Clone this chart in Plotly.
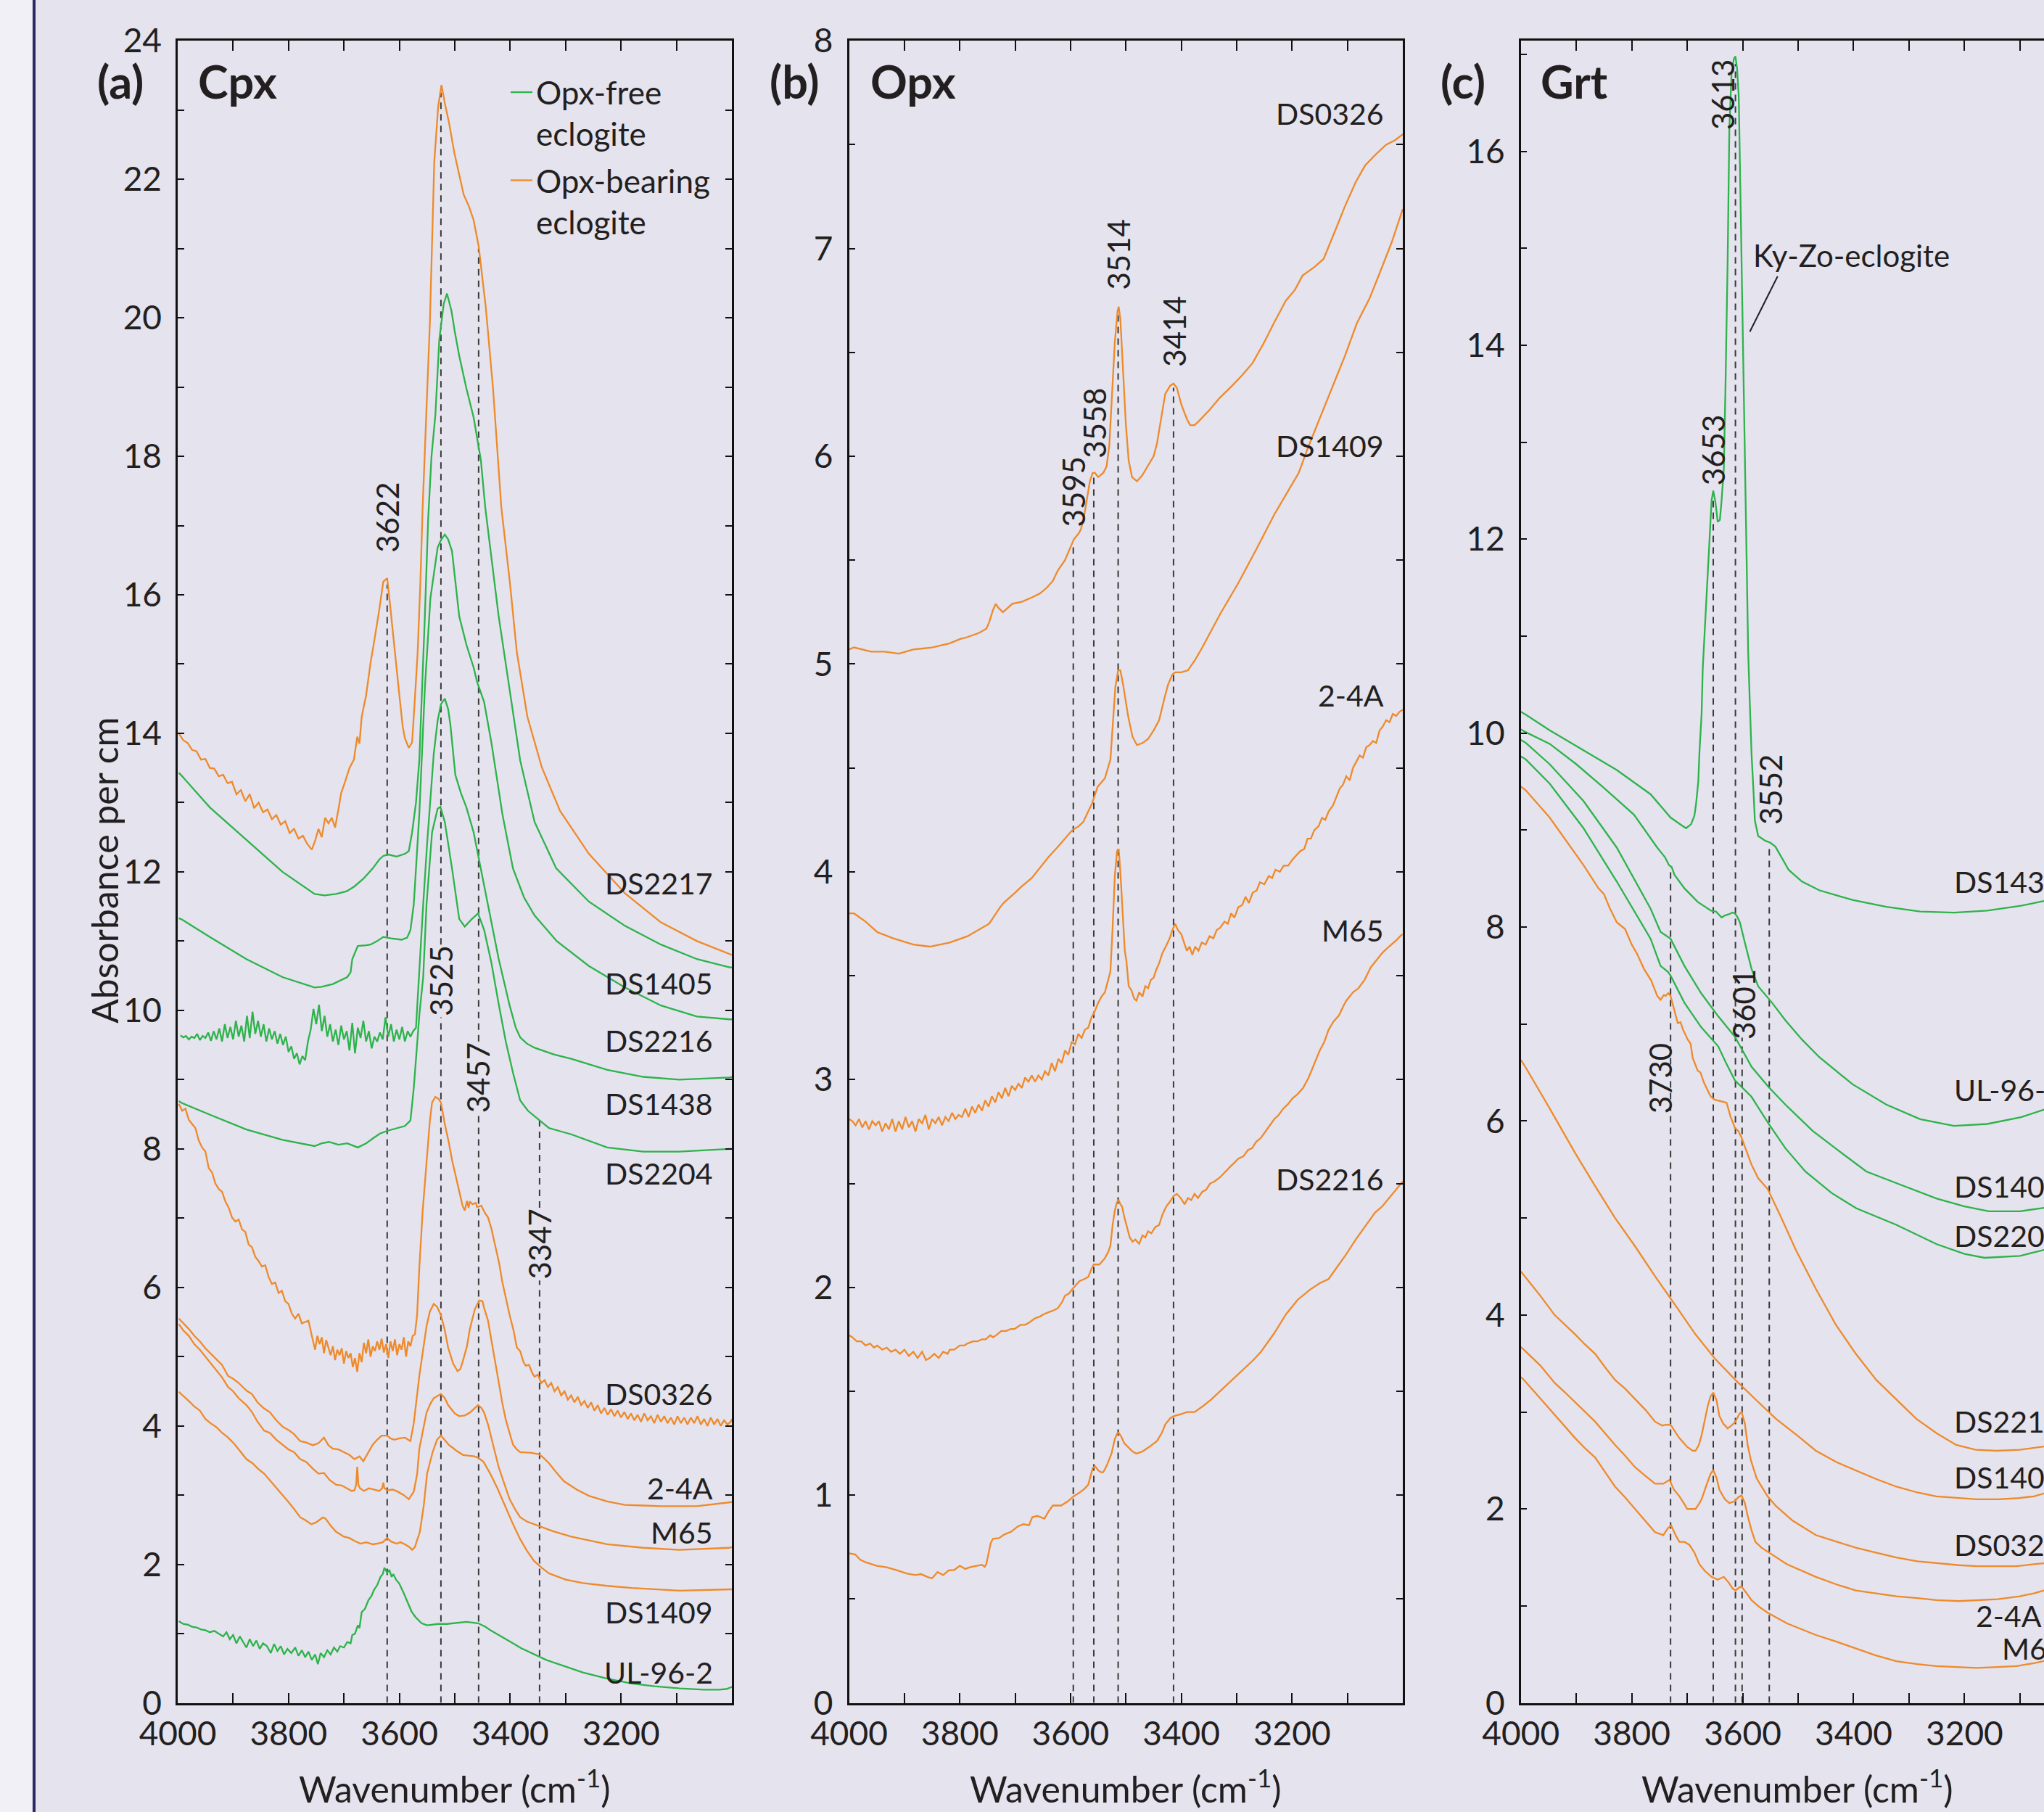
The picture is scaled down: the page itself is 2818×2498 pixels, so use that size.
import plotly.graph_objects as go

# ---------------- colours / fonts ----------------
ORANGE = "#EF8A2A"
GREEN = "#2DB34A"
BG = "#E4E3EE"
STRIP = "#F0F0F6"
NAVY = "#2A2A66"
INK = "#231F20"
FONT = "Lato"

# ---------------- panel (a) Cpx spectra: (wavenumber, absorbance per cm) ----------------
A_DS2217 = [(3998,14.00),(3990,13.90),(3982,13.86),(3974,13.76),(3966,13.74),(3958,13.62),(3950,13.63),(3942,13.50),
    (3934,13.49),(3926,13.38),(3918,13.40),(3910,13.28),(3902,13.30),(3894,13.12),(3886,13.18),(3878,13.02),(3870,13.12),
    (3862,12.92),(3854,13.00),(3846,12.86),(3838,12.90),(3830,12.76),(3822,12.82),(3814,12.68),(3806,12.73),(3798,12.56),
    (3790,12.62),(3782,12.48),(3774,12.52),(3766,12.40),(3758,12.32),(3752,12.45),(3746,12.62),(3740,12.50),(3734,12.78),
    (3728,12.70),(3722,12.78),(3716,12.64),(3710,12.90),(3705,13.14),(3698,13.30),(3690,13.50),(3682,13.62),(3676,13.95),
    (3672,13.85),(3668,14.24),(3660,14.55),(3652,15.02),(3646,15.30),(3642,15.49),(3636,15.80),(3629,16.19),(3622,16.24),
    (3618,15.95),(3613,15.54),(3606,15.00),(3600,14.55),(3594,14.10),(3590,13.93),(3583,13.79),(3577,13.87),(3572,14.50),
    (3567,15.17),(3562,16.20),(3558,17.26),(3545,19.92),(3537,22.25),(3530,23.05),(3524,23.36),(3518,23.10),(3510,22.80),
    (3501,22.39),(3492,22.05),(3484,21.78),(3474,21.60),(3466,21.41),(3457,21.04),(3444,20.15),(3431,18.98),(3416,17.26),
    (3401,16.21),(3388,15.17),(3369,14.24),(3343,13.51),(3310,12.88),(3258,12.26),(3193,11.69),(3128,11.27),(3063,11.00),
    (3004,10.81),(3000,10.80)]
A_DS1405 = [(3998,13.43),(3992,13.38),(3942,12.93),(3876,12.46),(3811,12.00),(3753,11.68),(3735,11.66),(3714,11.68),
    (3695,11.72),(3681,11.79),(3665,11.90),(3648,12.05),(3636,12.18),(3629,12.23),(3620,12.25),(3605,12.22),(3590,12.26),
    (3583,12.30),(3577,12.57),(3570,13.00),(3564,13.61),(3554,15.69),(3548,17.10),(3542,18.00),(3535,18.60),(3528,19.68),
    (3520,20.20),(3514,20.35),(3506,20.10),(3500,19.80),(3492,19.45),(3479,18.98),(3466,18.56),(3453,17.95),(3445,17.26),
    (3421,15.70),(3401,14.65),(3382,13.61),(3356,12.72),(3317,12.05),(3258,11.57),(3193,11.22),(3128,10.95),(3063,10.74),
    (3004,10.62),(3000,10.62)]
A_DS2216 = [(3998,11.33),(3992,11.31),(3942,11.06),(3876,10.74),(3811,10.48),(3753,10.33),(3740,10.34),(3720,10.38),
    (3694,10.48),(3688,10.55),(3685,10.74),(3678,10.88),(3675,10.93),(3660,10.94),(3652,10.95),(3640,11.00),(3629,11.06),
    (3615,11.04),(3596,11.02),(3586,11.05),(3580,11.16),(3574,11.53),(3564,12.83),(3554,14.65),(3544,15.95),(3531,16.68),
    (3525,16.79),(3518,16.87),(3512,16.80),(3505,16.63),(3492,15.69),(3479,15.28),(3466,14.95),(3460,14.75),(3447,14.45),
    (3434,13.87),(3414,12.83),(3395,12.05),(3375,11.63),(3356,11.37),(3316,11.00),(3258,10.64),(3193,10.33),(3128,10.07),
    (3063,9.91),(3004,9.87),(3000,9.87)]
A_DS1438 = [(3995,9.64),(3990,9.61),(3985,9.63),(3980,9.58),(3975,9.62),(3970,9.60),(3965,9.66),(3960,9.57),(3955,9.63),
    (3950,9.60),(3945,9.68),(3940,9.56),(3935,9.70),(3930,9.58),(3925,9.74),(3920,9.55),(3915,9.80),(3910,9.60),(3905,9.76),
    (3900,9.58),(3895,9.85),(3890,9.62),(3885,9.78),(3880,9.55),(3875,9.92),(3870,9.60),(3865,9.98),(3860,9.66),(3855,9.85),
    (3850,9.62),(3845,9.80),(3840,9.55),(3835,9.74),(3830,9.58),(3825,9.70),(3820,9.52),(3815,9.66),(3810,9.50),(3805,9.62),
    (3800,9.40),(3795,9.48),(3790,9.30),(3785,9.38),(3780,9.22),(3775,9.34),(3770,9.28),(3765,9.55),(3760,9.72),(3755,10.02),
    (3750,9.80),(3745,10.08),(3740,9.70),(3735,9.92),(3730,9.62),(3725,9.80),(3720,9.55),(3715,9.72),(3710,9.50),(3705,9.78),
    (3700,9.58),(3695,9.70),(3690,9.42),(3685,9.82),(3680,9.38),(3675,9.75),(3670,9.60),(3665,9.85),(3660,9.55),(3655,9.70),
    (3650,9.45),(3645,9.62),(3640,9.55),(3635,9.68),(3630,9.58),(3625,9.90),(3620,9.62),(3615,9.80),(3610,9.55),(3605,9.72),
    (3600,9.58),(3595,9.76),(3590,9.55),(3585,9.70),(3580,9.62),(3575,9.70),(3570,9.75),(3566,10.30),(3562,10.90),
    (3557,11.53),(3550,12.40),(3544,13.09),(3538,13.70),(3531,14.18),(3525,14.42),(3518,14.50),(3512,14.35),(3508,14.13),
    (3503,13.75),(3499,13.40),(3489,13.14),(3479,12.93),(3466,12.57),(3453,12.05),(3440,11.53),(3421,10.75),(3401,10.07),
    (3390,9.75),(3382,9.61),(3370,9.52),(3356,9.46),(3320,9.36),(3290,9.30),(3225,9.14),(3160,9.04),(3095,9.00),(3004,9.03),
    (3000,9.04)]
A_DS2204 = [(3998,8.69),(3992,8.66),(3941,8.49),(3876,8.28),(3811,8.13),(3753,8.04),(3740,8.08),(3727,8.10),(3710,8.06),
    (3694,8.08),(3675,8.02),(3660,8.08),(3648,8.15),(3635,8.22),(3622,8.26),(3605,8.30),(3590,8.33),(3580,8.41),(3574,8.88),
    (3564,9.93),(3557,10.48),(3551,11.53),(3541,12.57),(3531,12.91),(3526,12.94),(3518,12.72),(3505,12.05),(3492,11.32),
    (3482,11.21),(3469,11.32),(3458,11.40),(3447,11.16),(3434,10.69),(3421,10.10),(3408,9.55),(3395,9.10),(3382,8.70),
    (3368,8.55),(3356,8.47),(3330,8.30),(3290,8.21),(3225,8.02),(3160,7.96),(3095,7.96),(3004,8.00),(3000,8.00)]
A_DS0326 = [(3998,8.65),(3992,8.55),(3986,8.58),(3980,8.42),(3974,8.36),(3968,8.30),(3962,8.12),(3956,8.02),(3950,7.96),
    (3944,7.72),(3938,7.66),(3932,7.50),(3926,7.42),(3920,7.38),(3914,7.24),(3908,7.15),(3902,7.01),(3896,6.95),(3890,6.98),
    (3884,6.84),(3878,6.80),(3872,6.62),(3866,6.58),(3860,6.44),(3854,6.38),(3848,6.30),(3842,6.32),(3836,6.15),(3830,6.05),
    (3824,6.07),(3818,5.92),(3812,5.95),(3806,5.80),(3800,5.76),(3794,5.62),(3788,5.55),(3782,5.62),(3776,5.48),(3770,5.50),
    (3764,5.52),(3758,5.30),(3752,5.10),(3748,5.30),(3744,5.18),(3740,5.28),(3736,5.05),(3732,5.24),(3728,5.12),(3724,5.02),
    (3720,5.15),(3716,4.95),(3712,5.10),(3708,5.02),(3704,5.12),(3700,4.90),(3696,5.08),(3692,4.98),(3688,5.05),(3684,4.85),
    (3680,4.98),(3676,4.78),(3672,5.05),(3668,4.92),(3664,5.20),(3660,5.05),(3656,5.25),(3652,5.00),(3648,5.15),(3644,5.08),
    (3640,5.22),(3636,5.10),(3632,5.26),(3628,5.06),(3624,5.18),(3620,4.98),(3616,5.22),(3612,5.08),(3608,5.25),(3604,5.02),
    (3600,5.18),(3596,5.10),(3592,5.28),(3588,5.00),(3584,5.22),(3580,5.15),(3576,5.30),(3572,5.32),(3568,5.60),(3564,6.28),
    (3558,7.10),(3551,7.84),(3545,8.40),(3541,8.67),(3535,8.75),(3529,8.72),(3525,8.67),(3518,8.36),(3511,8.10),(3505,7.84),
    (3498,7.60),(3492,7.42),(3486,7.18),(3482,7.11),(3478,7.25),(3475,7.15),(3473,7.24),(3468,7.20),(3462,7.22),(3460,7.16),
    (3452,7.18),(3446,7.08),(3440,7.01),(3434,6.85),(3427,6.59),(3420,6.35),(3414,6.07),(3408,5.85),(3401,5.60),(3394,5.38),
    (3388,5.13),(3382,5.08),(3376,4.92),(3372,4.87),(3366,4.88),(3360,4.76),(3356,4.71),(3350,4.74),(3344,4.62),(3338,4.66),
    (3332,4.56),(3326,4.62),(3320,4.50),(3314,4.56),(3308,4.44),(3302,4.50),(3296,4.38),(3290,4.44),(3284,4.34),(3278,4.42),
    (3272,4.30),(3266,4.36),(3260,4.26),(3254,4.34),(3248,4.22),(3242,4.30),(3236,4.18),(3230,4.26),(3224,4.16),(3218,4.24),
    (3212,4.14),(3206,4.22),(3200,4.12),(3194,4.20),(3188,4.10),(3182,4.18),(3176,4.08),(3170,4.16),(3164,4.06),(3158,4.18),
    (3152,4.08),(3146,4.14),(3140,4.04),(3134,4.16),(3128,4.06),(3122,4.14),(3116,4.04),(3110,4.12),(3104,4.02),(3098,4.14),
    (3092,4.04),(3086,4.12),(3080,4.02),(3074,4.12),(3068,4.04),(3062,4.14),(3056,4.02),(3050,4.10),(3044,4.00),(3038,4.12),
    (3032,4.02),(3026,4.10),(3020,4.00),(3014,4.08),(3008,4.02),(3002,4.06),(3000,4.10)]
A_2_4A = [(3998,5.55),(3990,5.48),(3980,5.40),(3970,5.30),(3960,5.22),(3950,5.12),(3940,5.04),(3930,4.95),(3920,4.88),
    (3909,4.72),(3900,4.68),(3890,4.62),(3876,4.51),(3866,4.46),(3856,4.34),(3844,4.25),(3834,4.20),(3822,4.08),(3811,3.99),
    (3800,3.94),(3790,3.88),(3779,3.78),(3768,3.76),(3756,3.72),(3746,3.75),(3736,3.83),(3728,3.72),(3720,3.67),(3710,3.66),
    (3700,3.62),(3690,3.58),(3681,3.52),(3672,3.56),(3665,3.49),(3656,3.62),(3648,3.73),(3640,3.80),(3632,3.86),(3622,3.86),
    (3616,3.82),(3609,3.80),(3600,3.82),(3590,3.83),(3580,3.78),(3574,4.04),(3564,4.72),(3551,5.44),(3545,5.65),(3538,5.76),
    (3532,5.72),(3525,5.60),(3518,5.38),(3512,5.13),(3503,4.90),(3495,4.79),(3490,4.82),(3486,4.92),(3478,5.15),(3473,5.39),
    (3464,5.68),(3456,5.81),(3450,5.80),(3447,5.70),(3440,5.52),(3434,5.24),(3427,4.92),(3421,4.61),(3414,4.32),(3408,4.09),
    (3400,3.88),(3395,3.73),(3388,3.66),(3382,3.62),(3362,3.61),(3348,3.59),(3340,3.54),(3330,3.46),(3316,3.32),(3303,3.20),
    (3280,3.08),(3258,2.99),(3225,2.91),(3193,2.86),(3160,2.85),(3128,2.84),(3063,2.84),(3004,2.89),(3000,2.90)]
A_M65 = [(3998,5.47),(3990,5.38),(3980,5.30),(3970,5.18),(3960,5.10),(3950,5.00),(3941,4.92),(3930,4.80),(3920,4.70),
    (3909,4.56),(3900,4.50),(3890,4.40),(3876,4.30),(3866,4.20),(3856,4.06),(3844,3.93),(3834,3.90),(3822,3.80),(3811,3.73),
    (3800,3.66),(3790,3.62),(3779,3.52),(3768,3.48),(3756,3.38),(3746,3.31),(3736,3.32),(3726,3.22),(3714,3.15),(3704,3.14),
    (3694,3.10),(3686,3.06),(3681,3.07),(3678,3.15),(3676,3.41),(3674,3.15),(3671,3.10),(3664,3.06),(3655,3.10),(3645,3.08),
    (3636,3.06),(3631,3.10),(3629,3.18),(3627,3.10),(3622,3.07),(3612,3.08),(3603,3.05),(3592,3.00),(3583,2.94),(3574,3.05),
    (3568,3.30),(3564,3.67),(3556,4.00),(3551,4.19),(3544,4.32),(3538,4.40),(3525,4.46),(3518,4.40),(3512,4.30),(3500,4.18),
    (3492,4.14),(3482,4.15),(3473,4.19),(3464,4.25),(3458,4.30),(3452,4.26),(3447,4.19),(3440,4.02),(3434,3.83),(3427,3.62),
    (3421,3.41),(3410,3.15),(3401,2.94),(3390,2.78),(3382,2.68),(3370,2.62),(3356,2.58),(3323,2.48),(3290,2.40),(3225,2.29),
    (3160,2.24),(3095,2.21),(3004,2.24),(3000,2.25)]
A_DS1409 = [(3998,4.49),(3992,4.45),(3980,4.36),(3970,4.28),(3960,4.22),(3950,4.10),(3941,4.04),(3930,3.98),(3920,3.90),
    (3909,3.83),(3898,3.74),(3888,3.64),(3876,3.52),(3865,3.46),(3855,3.38),(3844,3.31),(3832,3.20),(3822,3.10),(3811,3.00),
    (3800,2.90),(3790,2.80),(3779,2.68),(3770,2.64),(3759,2.58),(3752,2.60),(3746,2.63),(3738,2.68),(3733,2.66),(3724,2.56),
    (3714,2.47),(3700,2.40),(3690,2.38),(3681,2.34),(3670,2.30),(3660,2.32),(3648,2.29),(3640,2.30),(3630,2.32),(3622,2.38),
    (3615,2.33),(3605,2.30),(3598,2.32),(3590,2.29),(3582,2.25),(3577,2.21),(3572,2.25),(3568,2.35),(3563,2.47),(3556,2.85),
    (3550,3.31),(3540,3.62),(3532,3.80),(3525,3.86),(3518,3.80),(3510,3.72),(3503,3.68),(3497,3.64),(3485,3.58),(3475,3.57),
    (3465,3.56),(3458,3.54),(3448,3.48),(3436,3.31),(3422,3.08),(3409,2.84),(3396,2.60),(3383,2.38),(3370,2.20),(3357,2.05),
    (3343,1.95),(3330,1.87),(3300,1.78),(3269,1.73),(3225,1.69),(3181,1.66),(3094,1.62),(3000,1.64)]
A_UL962 = [(3998,1.18),(3990,1.14),(3982,1.13),(3974,1.10),(3966,1.09),(3958,1.06),(3950,1.05),(3942,1.02),(3934,1.04),
    (3926,1.00),(3918,0.96),(3912,1.02),(3906,0.92),(3900,0.98),(3894,0.86),(3888,0.96),(3882,0.88),(3876,0.80),(3870,0.92),
    (3864,0.82),(3858,0.90),(3852,0.78),(3846,0.86),(3839,0.82),(3832,0.72),(3826,0.85),(3820,0.75),(3814,0.82),(3808,0.70),
    (3802,0.78),(3795,0.72),(3788,0.80),(3782,0.68),(3776,0.76),(3770,0.66),(3764,0.74),(3758,0.62),(3752,0.70),(3747,0.56),
    (3742,0.72),(3736,0.66),(3730,0.76),(3724,0.70),(3718,0.80),(3712,0.74),(3707,0.82),(3700,0.80),(3694,0.88),(3688,0.86),
    (3685,0.98),(3680,1.00),(3675,1.12),(3672,1.08),(3668,1.31),(3662,1.36),(3656,1.48),(3650,1.55),(3646,1.63),(3640,1.70),
    (3634,1.82),(3630,1.86),(3627,1.95),(3622,1.88),(3618,1.92),(3614,1.82),(3611,1.86),(3606,1.78),(3600,1.72),(3593,1.60),
    (3585,1.45),(3578,1.32),(3571,1.24),(3560,1.15),(3550,1.12),(3530,1.14),(3514,1.14),(3495,1.16),(3479,1.17),(3458,1.15),
    (3445,1.10),(3436,1.05),(3418,0.97),(3401,0.89),(3380,0.79),(3357,0.70),(3335,0.62),(3313,0.56),(3290,0.50),(3269,0.44),
    (3225,0.35),(3181,0.28),(3140,0.24),(3094,0.21),(3050,0.19),(3024,0.19),(3010,0.20),(3000,0.23)]

# ---------------- panel (b) Opx spectra ----------------
B_DS0326 = [(4000,5.07),(3991,5.08),(3960,5.06),(3936,5.06),(3910,5.05),(3884,5.07),(3850,5.08),(3818,5.10),(3800,5.12),
    (3786,5.13),(3765,5.15),(3752,5.17),(3747,5.20),(3740,5.26),(3735,5.29),(3730,5.27),(3722,5.25),(3714,5.27),(3705,5.29),
    (3688,5.30),(3670,5.32),(3655,5.34),(3642,5.37),(3632,5.40),(3623,5.45),(3610,5.50),(3600,5.56),(3594,5.60),(3585,5.63),
    (3581,5.65),(3575,5.72),(3571,5.79),(3565,5.88),(3560,5.92),(3556,5.92),(3550,5.90),(3545,5.91),(3541,5.92),(3535,5.95),
    (3530,6.05),(3525,6.30),(3520,6.55),(3515,6.70),(3513,6.72),(3510,6.66),(3505,6.40),(3500,6.15),(3495,5.98),(3489,5.90),
    (3480,5.88),(3470,5.91),(3459,5.96),(3450,6.00),(3444,6.06),(3435,6.20),(3429,6.30),(3420,6.34),(3414,6.35),(3408,6.33),
    (3400,6.25),(3390,6.18),(3384,6.15),(3376,6.15),(3368,6.17),(3350,6.22),(3331,6.28),(3308,6.34),(3290,6.39),(3271,6.45),
    (3250,6.55),(3233,6.64),(3211,6.75),(3195,6.80),(3181,6.87),(3160,6.91),(3143,6.95),(3120,7.10),(3105,7.20),(3085,7.32),
    (3068,7.40),(3050,7.45),(3030,7.50),(3015,7.52),(3000,7.55)]
B_DS1409 = [(4000,3.80),(3991,3.80),(3970,3.76),(3949,3.71),(3920,3.68),(3884,3.65),(3854,3.64),(3818,3.66),(3786,3.69),
    (3760,3.73),(3747,3.75),(3727,3.83),(3721,3.85),(3700,3.90),(3688,3.93),(3670,3.97),(3655,4.02),(3640,4.07),(3623,4.12),
    (3610,4.16),(3597,4.20),(3585,4.22),(3577,4.24),(3570,4.28),(3561,4.33),(3551,4.41),(3538,4.45),(3528,4.54),(3523,4.72),
    (3519,4.89),(3514,4.97),(3510,4.97),(3505,4.90),(3500,4.82),(3496,4.75),(3488,4.65),(3480,4.61),(3470,4.62),(3460,4.64),
    (3450,4.68),(3440,4.73),(3430,4.84),(3424,4.90),(3416,4.95),(3411,4.96),(3400,4.96),(3388,4.97),(3375,5.02),(3362,5.08),
    (3330,5.24),(3297,5.39),(3265,5.55),(3232,5.72),(3210,5.82),(3188,5.92),(3170,6.05),(3158,6.13),(3140,6.25),(3120,6.38),
    (3105,6.48),(3083,6.64),(3060,6.76),(3045,6.86),(3020,7.03),(3000,7.19)]
B_2_4A = [(4000,2.81),(3994,2.80),(3988,2.78),(3982,2.81),(3976,2.77),(3970,2.80),(3964,2.76),(3958,2.80),(3952,2.78),
    (3946,2.80),(3940,2.75),(3934,2.79),(3928,2.76),(3922,2.81),(3916,2.75),(3910,2.80),(3904,2.76),(3898,2.82),(3892,2.77),
    (3886,2.80),(3880,2.75),(3874,2.81),(3868,2.79),(3862,2.83),(3856,2.76),(3850,2.81),(3844,2.79),(3838,2.82),(3832,2.78),
    (3826,2.82),(3820,2.80),(3814,2.84),(3808,2.81),(3802,2.83),(3796,2.82),(3790,2.86),(3784,2.82),(3778,2.87),(3772,2.84),
    (3766,2.88),(3760,2.85),(3754,2.90),(3748,2.87),(3742,2.92),(3736,2.89),(3730,2.94),(3724,2.91),(3718,2.96),(3712,2.92),
    (3706,2.97),(3700,2.95),(3694,2.98),(3688,2.96),(3682,3.01),(3676,2.99),(3670,3.02),(3664,2.99),(3658,3.02),(3652,3.00),
    (3646,3.04),(3640,3.02),(3634,3.08),(3628,3.04),(3622,3.10),(3616,3.08),(3610,3.14),(3604,3.12),(3598,3.18),(3592,3.17),
    (3586,3.22),(3580,3.20),(3574,3.24),(3568,3.25),(3562,3.30),(3556,3.33),(3550,3.37),(3544,3.40),(3538,3.42),(3532,3.48),
    (3528,3.52),(3524,3.73),(3520,3.98),(3516,4.10),(3513,4.11),(3510,4.00),(3506,3.82),(3502,3.62),(3499,3.57),(3495,3.45),
    (3490,3.43),(3485,3.39),(3481,3.38),(3476,3.42),(3470,3.40),(3465,3.45),(3460,3.44),(3455,3.48),(3450,3.49),(3445,3.53),
    (3440,3.56),(3434,3.61),(3428,3.64),(3421,3.68),(3416,3.72),(3411,3.75),(3406,3.72),(3400,3.70),(3395,3.66),(3390,3.62),
    (3385,3.64),(3380,3.60),(3375,3.64),(3369,3.62),(3363,3.66),(3356,3.65),(3349,3.69),(3342,3.68),(3336,3.72),(3330,3.73),
    (3322,3.76),(3316,3.75),(3310,3.80),(3304,3.78),(3297,3.83),(3290,3.84),(3284,3.88),(3278,3.85),(3271,3.90),(3264,3.91),
    (3258,3.95),(3250,3.94),(3242,3.98),(3236,3.97),(3230,4.01),(3222,4.00),(3215,4.03),(3207,4.03),(3199,4.06),(3192,4.08),
    (3185,4.10),(3178,4.11),(3172,4.16),(3166,4.16),(3160,4.20),(3152,4.22),(3146,4.26),(3140,4.25),(3134,4.29),(3126,4.32),
    (3120,4.36),(3114,4.40),(3108,4.42),(3102,4.46),(3096,4.44),(3090,4.50),(3084,4.53),(3078,4.56),(3072,4.55),(3066,4.60),
    (3060,4.61),(3054,4.63),(3048,4.62),(3042,4.68),(3036,4.70),(3030,4.73),(3024,4.72),(3018,4.76),(3012,4.75),(3006,4.77),
    (3000,4.78)]
B_M65 = [(4000,1.77),(3994,1.76),(3986,1.74),(3978,1.74),(3970,1.72),(3962,1.73),(3955,1.71),(3949,1.72),(3940,1.70),
    (3932,1.71),(3924,1.69),(3916,1.70),(3908,1.68),(3900,1.70),(3892,1.67),(3884,1.69),(3876,1.66),(3868,1.69),(3861,1.65),
    (3854,1.66),(3846,1.68),(3838,1.66),(3830,1.69),(3822,1.68),(3818,1.70),(3810,1.70),(3800,1.72),(3792,1.72),(3786,1.73),
    (3776,1.74),(3768,1.74),(3760,1.75),(3753,1.75),(3745,1.77),(3740,1.76),(3734,1.77),(3725,1.79),(3716,1.79),(3708,1.80),
    (3701,1.80),(3690,1.82),(3682,1.82),(3675,1.83),(3665,1.85),(3655,1.86),(3649,1.87),(3640,1.88),(3630,1.89),(3623,1.90),
    (3615,1.93),(3610,1.96),(3603,1.97),(3597,1.99),(3590,2.01),(3584,2.03),(3575,2.04),(3568,2.05),(3562,2.09),(3558,2.11),
    (3548,2.11),(3538,2.14),(3532,2.17),(3528,2.20),(3524,2.30),(3520,2.37),(3516,2.41),(3513,2.42),(3510,2.40),(3507,2.39),
    (3503,2.34),(3499,2.30),(3495,2.26),(3493,2.24),(3488,2.22),(3483,2.23),(3476,2.21),(3470,2.25),(3465,2.24),(3460,2.27),
    (3454,2.26),(3447,2.29),(3440,2.30),(3434,2.35),(3427,2.39),(3421,2.41),(3414,2.44),(3408,2.45),(3401,2.43),(3394,2.40),
    (3388,2.43),(3382,2.42),(3376,2.45),(3370,2.43),(3362,2.46),(3355,2.47),(3348,2.50),(3340,2.51),(3330,2.53),(3323,2.55),
    (3312,2.58),(3304,2.60),(3297,2.62),(3288,2.63),(3280,2.66),(3272,2.67),(3265,2.70),(3256,2.72),(3248,2.75),(3240,2.78),
    (3232,2.81),(3224,2.83),(3216,2.86),(3208,2.88),(3199,2.91),(3190,2.93),(3180,2.96),(3170,3.01),(3167,3.03),(3160,3.08),
    (3150,3.14),(3142,3.18),(3134,3.24),(3125,3.28),(3115,3.31),(3108,3.35),(3102,3.38),(3090,3.42),(3080,3.44),(3069,3.48),
    (3058,3.54),(3046,3.58),(3037,3.61),(3025,3.64),(3012,3.67),(3001,3.70)]
B_DS2216 = [(4000,0.72),(3989,0.715),(3980,0.69),(3970,0.677),(3950,0.66),(3932,0.653),(3915,0.64),(3895,0.622),
    (3880,0.615),(3870,0.62),(3857,0.605),(3850,0.60),(3840,0.63),(3830,0.615),(3820,0.638),(3810,0.64),(3800,0.66),
    (3790,0.645),(3782,0.653),(3770,0.66),(3760,0.665),(3755,0.655),(3752,0.669),(3748,0.72),(3744,0.77),(3740,0.79),
    (3729,0.793),(3720,0.81),(3707,0.824),(3695,0.85),(3685,0.86),(3675,0.855),(3669,0.894),(3660,0.90),(3647,0.887),
    (3640,0.92),(3632,0.95),(3617,0.95),(3605,0.97),(3594,0.995),(3585,1.01),(3575,1.03),(3568,1.05),(3564,1.09),(3560,1.13),
    (3556,1.14),(3550,1.12),(3545,1.11),(3541,1.11),(3535,1.14),(3526,1.20),(3520,1.27),(3515,1.30),(3513,1.30),(3508,1.28),
    (3503,1.25),(3496,1.23),(3488,1.21),(3481,1.20),(3470,1.21),(3459,1.23),(3444,1.26),(3435,1.30),(3429,1.34),(3420,1.37),
    (3414,1.38),(3400,1.39),(3390,1.40),(3376,1.40),(3360,1.43),(3346,1.46),(3330,1.50),(3310,1.55),(3293,1.59),(3270,1.65),
    (3256,1.69),(3232,1.78),(3211,1.87),(3190,1.94),(3167,1.99),(3150,2.02),(3134,2.04),(3118,2.10),(3102,2.16),(3085,2.23),
    (3069,2.29),(3050,2.36),(3037,2.39),(3018,2.45),(3000,2.51)]

# ---------------- panel (c) Grt spectra ----------------
C_DS1438 = [(4000,10.22),(3991,10.19),(3948,10.03),(3887,9.82),(3827,9.62),(3766,9.37),(3730,9.13),(3710,9.05),(3702,9.02),
    (3693,9.06),(3687,9.15),(3684,9.27),(3680,9.50),(3678,9.79),(3674,10.20),(3672,10.66),(3668,11.10),(3664,11.60),
    (3660,12.05),(3656,12.40),(3653,12.50),(3649,12.38),(3645,12.18),(3641,12.20),(3638,12.40),(3634,12.72),(3631,13.56),
    (3627,14.89),(3624,16.23),(3620,16.80),(3616,16.95),(3613,16.98),(3610,16.85),(3607,16.56),(3604,15.56),(3600,14.20),
    (3597,13.22),(3595,12.33),(3592,11.50),(3590,10.83),(3587,10.30),(3584,9.79),(3580,9.35),(3578,9.10),(3572,8.94),
    (3559,8.89),(3550,8.87),(3541,8.83),(3529,8.71),(3517,8.59),(3493,8.47),(3462,8.38),(3402,8.28),(3341,8.21),(3280,8.16),
    (3219,8.15),(3159,8.17),(3098,8.22),(3057,8.27),(3050,8.28)]
C_UL962 = [(4000,10.04),(3991,10.01),(3948,9.89),(3900,9.68),(3851,9.44),(3796,9.16),(3754,8.82),(3740,8.72),(3733,8.64),
    (3728,8.62),(3723,8.54),(3705,8.40),(3681,8.26),(3665,8.20),(3657,8.17),(3648,8.16),(3642,8.12),(3638,8.10),(3632,8.12),
    (3626,8.13),(3618,8.15),(3614,8.14),(3610,8.11),(3605,8.05),(3596,7.84),(3584,7.57),(3572,7.39),(3547,7.22),(3523,7.04),
    (3493,6.84),(3462,6.66),(3402,6.38),(3341,6.17),(3280,6.02),(3219,5.95),(3159,5.97),(3098,6.04),(3057,6.12),(3050,6.13)]
C_DS1405 = [(4000,9.93),(3991,9.90),(3948,9.68),(3887,9.30),(3827,8.82),(3766,8.19),(3748,7.95),(3735,7.90),(3730,7.88),
    (3705,7.60),(3675,7.32),(3644,7.08),(3614,6.87),(3584,6.56),(3553,6.35),(3523,6.17),(3474,5.90),(3426,5.69),(3377,5.48),
    (3323,5.36),(3250,5.20),(3200,5.12),(3156,5.07),(3100,5.07),(3057,5.10),(3050,5.11)]
C_DS2204 = [(4000,9.76),(3991,9.73),(3948,9.48),(3887,9.02),(3827,8.47),(3766,7.88),(3748,7.60),(3735,7.54),(3730,7.50),
    (3705,7.22),(3675,6.97),(3644,6.77),(3630,6.60),(3614,6.42),(3584,6.25),(3553,5.97),(3523,5.72),(3487,5.48),(3440,5.26),
    (3395,5.10),(3323,4.93),(3250,4.73),(3200,4.63),(3164,4.59),(3100,4.61),(3057,4.67),(3050,4.68)]
C_DS2217 = [(4000,9.45),(3991,9.41),(3948,9.13),(3887,8.64),(3860,8.40),(3850,8.34),(3840,8.20),(3827,8.05),(3812,7.98),
    (3800,7.82),(3790,7.72),(3778,7.57),(3765,7.45),(3754,7.29),(3748,7.25),(3742,7.30),(3739,7.29),(3734,7.32),(3730,7.29),
    (3724,7.15),(3717,7.01),(3712,7.02),(3708,6.95),(3699,6.84),(3694,6.80),(3690,6.65),(3681,6.52),(3676,6.50),(3670,6.40),
    (3660,6.28),(3657,6.25),(3650,6.22),(3644,6.21),(3636,6.20),(3629,6.19),(3622,6.05),(3614,5.93),(3608,5.90),(3602,5.83),
    (3595,5.72),(3584,5.55),(3572,5.41),(3555,5.30),(3530,5.00),(3504,4.67),(3468,4.27),(3432,3.90),(3396,3.60),(3359,3.33),
    (3323,3.13),(3287,2.93),(3250,2.78),(3215,2.66),(3180,2.61),(3142,2.60),(3100,2.61),(3057,2.64),(3050,2.65)]
C_DS1409 = [(4000,6.63),(3993,6.57),(3950,6.15),(3902,5.67),(3866,5.33),(3830,5.00),(3793,4.70),(3758,4.40),(3720,4.09),
    (3685,3.80),(3650,3.55),(3613,3.33),(3575,3.12),(3540,2.93),(3500,2.75),(3468,2.60),(3430,2.48),(3396,2.40),(3360,2.31),
    (3323,2.23),(3285,2.17),(3251,2.13),(3210,2.11),(3178,2.10),(3140,2.10),(3106,2.11),(3075,2.13),(3057,2.16),(3050,2.17)]
C_DS0326 = [(4000,4.45),(3993,4.40),(3965,4.20),(3939,4.00),(3920,3.90),(3902,3.80),(3885,3.70),(3866,3.60),(3848,3.46),
    (3830,3.33),(3812,3.24),(3794,3.13),(3775,3.02),(3758,2.90),(3745,2.86),(3735,2.87),(3729,2.86),(3720,2.78),(3714,2.73),
    (3700,2.64),(3690,2.60),(3685,2.60),(3679,2.66),(3674,2.76),(3668,2.92),(3663,3.06),(3658,3.16),(3653,3.20),(3647,3.12),
    (3642,2.96),(3635,2.88),(3627,2.83),(3620,2.86),(3613,2.90),(3606,2.98),(3602,3.00),(3596,2.88),(3591,2.66),(3585,2.50),
    (3580,2.40),(3575,2.32),(3569,2.26),(3562,2.20),(3555,2.13),(3540,2.03),(3510,1.88),(3468,1.73),(3430,1.66),(3396,1.60),
    (3360,1.55),(3323,1.50),(3285,1.46),(3251,1.44),(3210,1.42),(3178,1.41),(3140,1.41),(3106,1.41),(3075,1.43),(3057,1.44),
    (3050,1.45)]
C_2_4A = [(4000,3.67),(3996,3.65),(3965,3.48),(3939,3.30),(3920,3.20),(3902,3.10),(3885,3.01),(3866,2.90),(3848,2.78),
    (3830,2.66),(3812,2.55),(3794,2.43),(3775,2.34),(3758,2.26),(3743,2.26),(3738,2.28),(3732,2.30),(3724,2.20),(3714,2.13),
    (3705,2.05),(3700,2.00),(3690,2.00),(3685,2.00),(3679,2.05),(3674,2.10),(3665,2.25),(3658,2.36),(3653,2.40),(3647,2.32),
    (3642,2.20),(3632,2.10),(3624,2.06),(3614,2.08),(3608,2.12),(3602,2.14),(3596,2.06),(3591,1.93),(3584,1.78),(3577,1.66),
    (3566,1.60),(3555,1.56),(3520,1.43),(3468,1.30),(3430,1.22),(3396,1.16),(3360,1.13),(3323,1.10),(3285,1.08),(3251,1.06),
    (3210,1.05),(3178,1.06),(3140,1.07),(3100,1.10),(3075,1.13),(3057,1.16),(3050,1.17)]
C_M65 = [(4000,3.36),(3996,3.34),(3965,3.14),(3939,2.97),(3920,2.85),(3902,2.73),(3885,2.63),(3866,2.53),(3848,2.38),
    (3830,2.23),(3812,2.12),(3794,2.00),(3775,1.88),(3758,1.76),(3743,1.73),(3735,1.80),(3729,1.83),(3720,1.72),(3714,1.66),
    (3705,1.66),(3696,1.63),(3687,1.55),(3678,1.43),(3668,1.36),(3656,1.30),(3645,1.27),(3634,1.30),(3625,1.24),(3618,1.18),
    (3613,1.16),(3606,1.19),(3602,1.20),(3594,1.14),(3584,1.06),(3570,0.99),(3555,0.93),(3520,0.82),(3468,0.70),(3430,0.63),
    (3396,0.56),(3360,0.49),(3323,0.43),(3285,0.40),(3251,0.38),(3210,0.37),(3178,0.36),(3140,0.37),(3106,0.38),(3075,0.41),
    (3057,0.43),(3050,0.44)]

# ---------------- sample-name labels: (name, wavenumber anchor, absorbance) ----------------
A_LABELS = [("DS2217",3032,11.84),("DS1405",3032,10.39),("DS2216",3032,9.56),("DS1438",3032,8.65),("DS2204",3032,7.65),
            ("DS0326",3032,4.46),("2-4A",3032,3.10),("M65",3032,2.46),("DS1409",3032,1.31),("UL-96-2",3032,0.44)]
B_LABELS = [("DS0326",3032,7.65),("DS1409",3032,6.05),("2-4A",3032,4.85),("M65",3032,3.72),("DS2216",3032,2.52)]
C_LABELS = [("DS1438",3222,8.47),("UL-96-2",3222,6.32),("DS1405",3222,5.33),("DS2204",3222,4.82),("DS2217",3222,2.90),
            ("DS1409",3222,2.33),("DS0326",3222,1.63),("2-4A",3182,0.90),("M65",3135,0.56)]

# ---------------- peak positions: dashed marker segments (wavenumber, from, to) ----------------
A_PEAK_SEGS = [(3622,0,16.15),(3525,0,9.9),(3525,10.95,23.25),(3457,0,8.5),(3457,9.55,21.0),(3347,0,6.1),(3347,7.15,8.42)]
B_PEAK_SEGS = [(3595,0,5.58),(3558,0,5.91),(3514,0,6.68),(3414,0,6.33)]
C_PEAK_SEGS = [(3730,0,8.62),(3653,0,12.45),(3613,0,16.9),(3601,0,6.86),(3552,0,8.85)]
# peak labels: (text, wavenumber, absorbance)
A_PEAK_TEXT = [("3622",3622,17.12),("3525",3525,10.43),("3457",3457,9.03),("3347",3347,6.63)]
B_PEAK_TEXT = [("3514",3513,6.97),("3414",3412,6.60),("3558",3556,6.16),("3595",3595,5.83)]
C_PEAK_TEXT = [("3613",3636,16.58),("3653",3652,12.92),("3552",3550,9.42),("3601",3598,7.20),("3730",3749,6.44)]

# ---------------- panel definitions ----------------
PANELS = [
    dict(ax="", curves=[(A_DS2217,ORANGE),(A_DS1405,GREEN),(A_DS2216,GREEN),(A_DS1438,GREEN),(A_DS2204,GREEN),
                        (A_DS0326,ORANGE),(A_2_4A,ORANGE),(A_M65,ORANGE),(A_DS1409,ORANGE),(A_UL962,GREEN)],
         segs=A_PEAK_SEGS, ptext=A_PEAK_TEXT, labels=A_LABELS, lab_anchor="right"),
    dict(ax="2", curves=[(B_DS0326,ORANGE),(B_DS1409,ORANGE),(B_2_4A,ORANGE),(B_M65,ORANGE),(B_DS2216,ORANGE)],
         segs=B_PEAK_SEGS, ptext=B_PEAK_TEXT, labels=B_LABELS, lab_anchor="right"),
    dict(ax="3", curves=[(C_DS1438,GREEN),(C_UL962,GREEN),(C_DS1405,GREEN),(C_DS2204,GREEN),(C_DS2217,ORANGE),
                        (C_DS1409,ORANGE),(C_DS0326,ORANGE),(C_2_4A,ORANGE),(C_M65,ORANGE)],
         segs=C_PEAK_SEGS, ptext=C_PEAK_TEXT, labels=C_LABELS, lab_anchor="left"),
]

W, H = 2818, 2498
fig = go.Figure()
annotations = []
legend_done = {GREEN: False, ORANGE: False}
LEGEND_NAME = {GREEN: "Opx-free<br>eclogite", ORANGE: "Opx-bearing<br>eclogite"}

for p in PANELS:
    xa, ya = "x" + p["ax"], "y" + p["ax"]
    for wn, y0, y1 in p["segs"]:
        fig.add_trace(go.Scatter(x=[wn, wn], y=[y0, y1], mode="lines", xaxis=xa, yaxis=ya,
                                 line=dict(color="#3a3a3a", width=2, dash="9px,7px"),
                                 showlegend=False, hoverinfo="skip"))
    for data, col in p["curves"]:
        show = not legend_done[col]
        legend_done[col] = True
        fig.add_trace(go.Scatter(x=[d[0] for d in data], y=[d[1] for d in data], mode="lines",
                                 xaxis=xa, yaxis=ya, line=dict(color=col, width=2.3),
                                 name=LEGEND_NAME[col], showlegend=show, legendgroup=col,
                                 legendrank=1 if col == GREEN else 2))
    for txt, wn, v in p["ptext"]:
        annotations.append(dict(text=txt, x=wn, y=v, xref=xa, yref=ya, showarrow=False, textangle=-90,
                                font=dict(family=FONT, size=42, color=INK), xanchor="center", yanchor="middle"))
    for txt, wn, v in p["labels"]:
        annotations.append(dict(text=txt, x=wn, y=v, xref=xa, yref=ya, showarrow=False,
                                font=dict(family=FONT, size=41, color=INK), xanchor=p["lab_anchor"], yanchor="middle"))

# Ky-Zo-eclogite pointer
KYZO_LINE = [(3587, 14.14), (3537, 14.71)]
fig.add_trace(go.Scatter(x=[d[0] for d in KYZO_LINE], y=[d[1] for d in KYZO_LINE], mode="lines",
                         xaxis="x3", yaxis="y3", line=dict(color=INK, width=2), showlegend=False, hoverinfo="skip"))
annotations.append(dict(text="Ky-Zo-eclogite", x=3584, y=14.93, xref="x3", yref="y3", showarrow=False,
                        font=dict(family=FONT, size=42, color=INK), xanchor="left", yanchor="middle"))

# panel titles
for lab, mineral, xl, xm in [("(a)", "Cpx", 132, 271), ("(b)", "Opx", 1059, 1198), ("(c)", "Grt", 1984, 2122)]:
    annotations.append(dict(text="<b>%s</b>" % lab, x=xl / W, y=1 - 112 / H, xref="paper", yref="paper",
                            showarrow=False, xanchor="left", yanchor="middle",
                            font=dict(family=FONT, size=63, color=INK)))
    annotations.append(dict(text="<b>%s</b>" % mineral, x=xm / W, y=1 - 112 / H, xref="paper", yref="paper",
                            showarrow=False, xanchor="left", yanchor="middle",
                            font=dict(family=FONT, size=63, color=INK)))

# axis titles
for xc in [627, 1552, 2478]:
    annotations.append(dict(text="Wavenumber (cm<sup>-1</sup>)", x=xc / W, y=1 - 2462 / H, xref="paper", yref="paper",
                            showarrow=False, xanchor="center", yanchor="middle",
                            font=dict(family=FONT, size=50, color=INK)))
annotations.append(dict(text="Absorbance per cm", x=144 / W, y=1 - 1200 / H, xref="paper", yref="paper",
                        showarrow=False, textangle=-90, xanchor="center", yanchor="middle",
                        font=dict(family=FONT, size=50, color=INK)))

YDOM = [(2498 - 2347.6) / H, (2498 - 56.2) / H]
X_TICKS = [4000, 3800, 3600, 3400, 3200]


def xaxis(domain, rng, anchor):
    return dict(domain=domain, range=rng, anchor=anchor, automargin=False, showline=True, linecolor="#111",
                linewidth=2.5, mirror="ticks", ticks="inside", ticklen=14, tickwidth=2, tickcolor="#111",
                tickvals=X_TICKS, ticktext=[str(t) for t in X_TICKS], showgrid=False, zeroline=False,
                tickfont=dict(family=FONT, size=46, color=INK),
                minor=dict(dtick=100, tick0=0, ticks="inside", ticklen=14, tickwidth=2, tickcolor="#111", showgrid=False))


def yaxis(rng, dtick, minor, anchor, mirror="ticks"):
    return dict(domain=YDOM, range=rng, anchor=anchor, automargin=False, showline=True, linecolor="#111",
                linewidth=2.5, mirror=mirror, ticks="inside", ticklen=9, tickwidth=2, tickcolor="#111",
                dtick=dtick, tick0=0, ticklabelstandoff=10,
                showgrid=False, zeroline=False, tickfont=dict(family=FONT, size=46, color=INK),
                minor=dict(dtick=minor, tick0=0, ticks="inside", ticklen=9, tickwidth=2, tickcolor="#111", showgrid=False))


fig.update_layout(
    width=W, height=H, margin=dict(l=0, r=0, t=0, b=0, autoexpand=False),
    paper_bgcolor=BG, plot_bgcolor=BG,
    font=dict(family=FONT, color=INK),
    xaxis=xaxis([245 / W, 1009 / W], [4000, 3000], "y"),
    yaxis=yaxis([0, 24], 2, 1, "x"),
    xaxis2=xaxis([1170.5 / W, 1934 / W], [4000, 3000], "y2"),
    yaxis2=yaxis([0, 8], 1, 0.5, "x2"),
    xaxis3=xaxis([2096.7 / W, 1.0], [4000, 4000 - (W - 2096.7) / 0.7646], "y3"),
    yaxis3=yaxis([0, 17.14], 2, 1, "x3", mirror=False),
    legend=dict(x=699 / W, y=1 - 92 / H, xanchor="left", yanchor="top", bgcolor="rgba(0,0,0,0)",
                font=dict(family=FONT, size=44, color=INK), valign="top", tracegroupgap=4, itemwidth=30),
    annotations=annotations,
    shapes=[dict(type="rect", xref="paper", yref="paper", x0=0, x1=44 / W, y0=0, y1=1,
                 fillcolor=STRIP, line=dict(width=0), layer="below"),
            dict(type="line", xref="paper", yref="paper", x0=47 / W, x1=47 / W, y0=0, y1=1,
                 line=dict(color=NAVY, width=4))],
)

fig.write_html("out.html")
